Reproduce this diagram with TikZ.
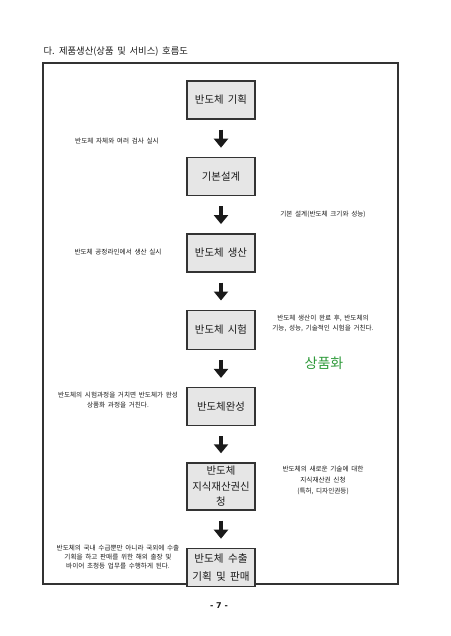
\documentclass[tikz,border=0pt]{standalone}
\usepackage{fontspec}
\setmainfont{Noto Sans CJK KR}[WordSpace=1.8]
\newfontfamily\pagefont{DejaVu Sans}
\usetikzlibrary{arrows.meta,positioning}
\definecolor{ink}{HTML}{1A1A1A}
\definecolor{boxfill}{HTML}{E6E6E6}
\definecolor{boxline}{HTML}{333333}
\definecolor{brandgreen}{HTML}{2E9A3A}
\tikzset{
  every node/.style={text=ink},
  stage/.style={draw=boxline,line width=1.4pt,fill=boxfill,align=center,minimum width=68pt,minimum height=38pt,inner sep=2pt,font=\fontsize{10.4}{15.5}\selectfont},
  flow/.style={line width=3.6pt,draw=ink,-{Triangle[width=14pt,length=9pt]},shorten <=10pt,shorten >=9pt},
  note/.style={align=center,font=\fontsize{6.6}{10}\selectfont},
}

\begin{document}
\begin{tikzpicture}[x=1pt,y=-1pt,node distance=37pt]
\useasboundingbox (0,0) rectangle (450,636);

\node[anchor=west,font=\fontsize{9.3}{11}\selectfont] (title) at (40,52) {다. 제품생산(상품 및 서비스) 호름도};
\draw[boxline,line width=1.2pt] (43,63) rectangle (398,584);

% flow of stages
\node[stage] (plan) at (221,100) {반도체 기획};
\node[stage,below=of plan] (design) {기본설계};
\node[stage,below=of design] (fab) {반도체 생산};
\node[stage,minimum height=39pt,below=of fab] (test) {반도체 시험};
\node[stage,below=of test] (done) {반도체완성};
\node[stage,minimum height=47pt,below=36pt of done] (ip) {반도체\\지식재산권신\\청};
\node[stage,below=of ip,font=\fontsize{10.6}{18}\selectfont] (export) {반도체 수출\\기획 및 판매};
\draw[flow] (plan) -- (design);
\draw[flow] (design) -- (fab);
\draw[flow] (fab) -- (test);
\draw[flow] (test) -- (done);
\draw[flow] (done) -- (ip);
\draw[flow] (ip) -- (export);

% side notes
\node[note] (n1) at (117,141) {반도체 자체와 여러 검사 실시};
\node[note] (n2) at (323,214) {기본 설계(반도체 크기와 성능)};
\node[note] (n3) at (118,252) {반도체 공정라인에서 생산 실시};
\node[note] (n4) at (323,323) {반도체 생산이 완료 후, 반도체의\\기능, 성능, 기술적인 시험을 거친다.};
\node[font=\fontsize{14}{16}\selectfont,text=brandgreen] (brand) at (324,363) {상품화};
\node[note] (n5) at (118,400) {반도체의 시험과정을 거치면 반도체가 완성\\상품화 과정을 거친다.};
\node[note,font=\fontsize{6.6}{11}\selectfont] (n6) at (323,480) {반도체의 새로운 기술에 대한\\지식재산권 신청\\(특허, 디자인권등)};
\node[note,font=\fontsize{6.6}{9}\selectfont] (n7) at (118,557) {반도체의 국내 수급뿐만 아니라 국외에 수출\\기획을 하고 판매를 위한 해외 출장 및\\바이어 초청등 업무를 수행하게 된다.};

\node[font=\pagefont\bfseries\fontsize{8}{10}\selectfont] (page) at (219,606) {- 7 -};

\end{tikzpicture}
\end{document}
